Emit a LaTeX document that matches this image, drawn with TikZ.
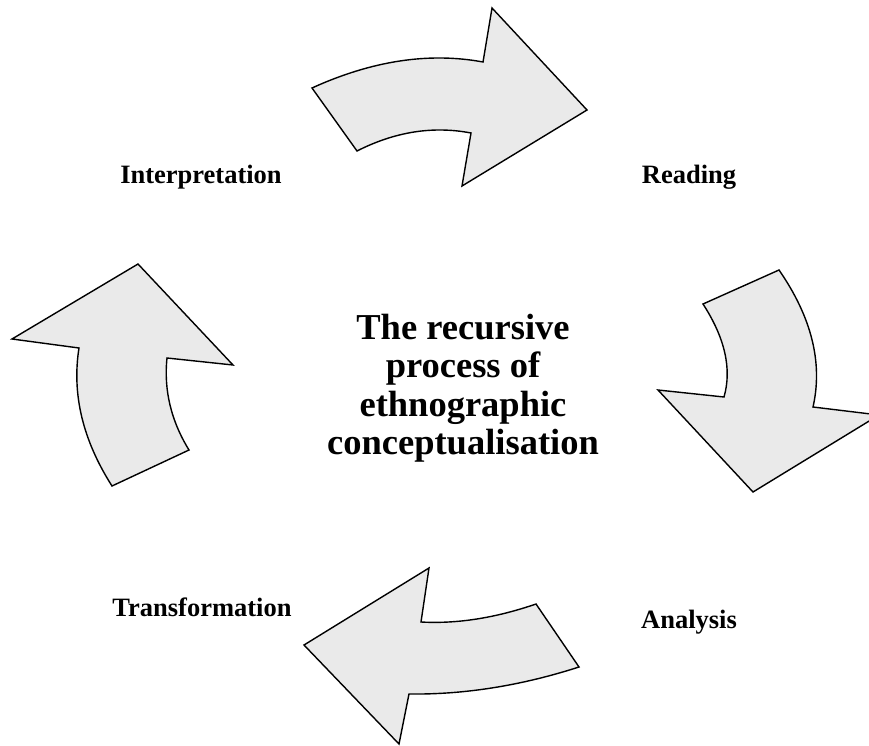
\documentclass[tikz,border=0pt]{standalone}
\usepackage{fontspec}
\setmainfont{Liberation Serif}
\definecolor{arrowfill}{RGB}{234,234,234}
\begin{document}
\begin{tikzpicture}[x=1pt,y=-1pt,
  bigarrow/.style={draw=black, line width=1.4pt, fill=arrowfill, line join=miter},
  steplabel/.style={anchor=base, inner sep=0pt, font=\fontsize{26.5}{31}\selectfont\bfseries},
  centrelabel/.style={anchor=base, inner sep=0pt}]
\useasboundingbox (0,0) rectangle (869,746);
% top arrow (Interpretation -> Reading)
\draw[bigarrow] (312,88) .. controls (372,60.7) and (429,52) .. (483,62) -- (492,8) -- (587,110) -- (462,186) -- (471,133)
  .. controls (433,125.7) and (395,131.7) .. (357,151) -- cycle;
% right arrow (Reading -> Analysis)
\draw[bigarrow] (703,304) -- (779,270) .. controls (811.7,317.3) and (823,363) .. (813,407) -- (879,415) -- (753,492) -- (658,390) -- (724,397)
  .. controls (732,369) and (725,338) .. cycle;
% bottom arrow (Analysis -> Transformation)
\draw[bigarrow] (536,604) -- (579,667) .. controls (521,685.7) and (464.3,694.7) .. (409,694) -- (399,744) -- (304,645) -- (429,568) -- (421,622)
  .. controls (457,624) and (495.3,618) .. cycle;
% left arrow (Transformation -> Interpretation)
\draw[bigarrow] (112,486) .. controls (82.7,440) and (71.7,394) .. (79,348) -- (12,339) -- (138,264) -- (233,365) -- (167,358)
  .. controls (163.7,390) and (171,420.7) .. (189,450) -- cycle;
% labels
\node[steplabel] (interp) at (201,183) {Interpretation};
\node[steplabel] (reading) at (689,183) {Reading};
\node[steplabel] (transf) at (202,616) {Transformation};
\node[steplabel] (analysis) at (689,628) {Analysis};
\node[centrelabel] (centre) at (463,339) {\fontsize{36.5}{38.5}\selectfont\bfseries\setlength{\tabcolsep}{0pt}%
  \begin{tabular}[t]{c}The recursive\\ process of\\ ethnographic\\ conceptualisation\end{tabular}};
\end{tikzpicture}
\end{document}
